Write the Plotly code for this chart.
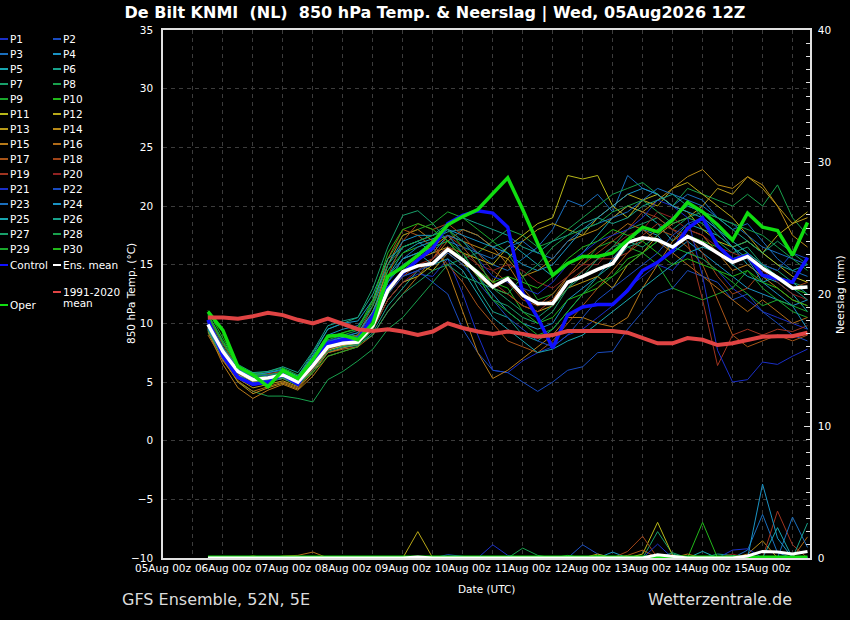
# GFS ensemble plume, De Bilt - 850 hPa temperature and precipitation

import pandas as pd

import plotly.graph_objects as go


# 6-hourly steps from 05Aug 18z to 15Aug 18z
times = pd.date_range("2026-08-05 18:00", periods=41, freq="6h")

ens_mean_t = [9.9, 7.6, 5.9, 5.2, 5.35, 5.6, 5.0, 6.4, 8.0, 8.3,
              8.4, 9.8, 12.8, 14.4, 14.9, 15.1, 16.3, 15.4, 14.3, 13.1,
              13.8, 12.4, 11.7, 11.7, 13.5, 14.0, 14.6, 15.1, 16.9, 17.3,
              17.1, 16.5, 17.4, 16.8, 16.0, 15.2, 15.7, 14.7, 13.9, 13.0,
              13.1]
control_t = [10.3, 7.2, 5.4, 4.8, 5.0, 5.6, 4.8, 6.8, 8.3, 8.6,
             8.6, 10.6, 13.0, 14.3, 15.4, 16.4, 18.5, 19.2, 19.6, 19.4,
             18.2, 12.6, 10.5, 7.9, 10.7, 11.4, 11.6, 11.6, 12.8, 14.5,
             15.2, 16.2, 18.1, 19.0, 16.6, 15.4, 15.8, 14.1, 13.8, 13.5,
             15.6]
oper_t = [11.0, 9.4, 6.3, 5.6, 4.6, 6.0, 5.3, 6.9, 8.9, 9.0,
          8.6, 10.0, 14.0, 14.8, 15.8, 16.9, 18.4, 19.1, 19.7, 21.1,
          22.4, 19.7, 16.8, 14.1, 15.1, 15.7, 15.7, 16.0, 17.1, 18.2,
          17.8, 18.8, 20.3, 19.5, 18.4, 17.1, 19.4, 18.2, 17.9, 15.8,
          18.6]
clim_t = [10.5, 10.5, 10.4, 10.6, 10.9, 10.7, 10.3, 10.0, 10.4, 9.95,
          9.5, 9.35, 9.5, 9.3, 9.0, 9.3, 10.0, 9.6, 9.3, 9.1,
          9.3, 9.1, 8.85, 9.0, 9.35, 9.35, 9.35, 9.35, 9.2, 8.75,
          8.3, 8.3, 8.75, 8.6, 8.15, 8.3, 8.6, 8.85, 8.9, 8.9,
          9.2]

t_p1 = [9.6, 7.2, 5.5, 4.9, 5.1, 5.4, 4.8, 6.0, 7.5, 7.9,
        8.2, 9.5, 12.0, 13.5, 14.2, 14.0, 15.5, 12.5, 9.0, 6.0,
        5.8, 6.8, 7.5, 8.0, 9.0, 9.5, 10.5, 11.5, 13.0, 14.0,
        15.0, 14.5, 16.0, 15.5, 14.5, 13.0, 12.0, 11.0, 10.5, 10.0,
        9.5]
t_p2 = [9.8, 7.4, 5.7, 5.0, 5.2, 5.5, 4.9, 6.2, 7.8, 8.1,
        8.3, 9.6, 12.5, 14.0, 14.5, 13.5, 12.5, 9.5, 7.5, 6.0,
        5.8, 5.0, 4.2, 5.0, 6.0, 6.3, 7.5, 7.6, 9.5, 11.0,
        12.5, 13.0, 14.5, 14.0, 13.5, 12.0, 12.5, 11.0, 10.0, 9.0,
        8.5]
t_p3 = [10.0, 7.8, 6.1, 5.4, 5.6, 5.8, 5.2, 6.6, 8.2, 8.6,
        8.8, 10.5, 13.5, 15.0, 15.8, 16.5, 17.0, 16.5, 16.0, 15.0,
        14.5, 15.5, 16.5, 18.0, 20.5, 20.0, 21.0, 19.5, 22.6, 21.5,
        21.0, 20.0, 21.0, 20.5, 19.0, 18.0, 18.5, 17.0, 15.5, 14.5,
        14.0]
t_p4 = [9.7, 7.5, 6.0, 5.5, 5.8, 6.0, 5.4, 7.2, 9.0, 9.5,
        9.8, 11.5, 14.5, 16.5, 17.0, 16.0, 17.5, 16.0, 14.0, 12.5,
        11.0, 10.0, 9.5, 10.0, 12.0, 13.0, 14.0, 15.5, 17.0, 18.0,
        17.5, 16.0, 17.0, 16.0, 15.0, 14.0, 13.0, 12.5, 12.0, 11.5,
        12.0]
t_p5 = [9.5, 7.0, 5.6, 5.1, 5.3, 5.5, 5.1, 6.8, 8.5, 8.8,
        9.0, 11.0, 14.0, 16.0, 16.8, 17.2, 17.8, 18.0, 17.5, 16.5,
        17.0, 16.0, 15.0, 14.0, 15.0, 16.0, 17.5, 19.0, 20.0, 19.5,
        18.5, 17.0, 18.5, 18.0, 17.5, 16.5, 15.0, 14.0, 13.5, 12.5,
        11.0]
t_p6 = [10.2, 7.8, 6.2, 5.6, 5.5, 5.7, 5.3, 6.5, 7.8, 8.0,
        8.1, 9.2, 11.5, 13.0, 14.5, 15.5, 16.5, 15.5, 13.0, 11.0,
        10.5, 9.0, 8.5, 9.5, 11.0, 12.5, 14.0, 15.0, 16.5, 17.0,
        18.0, 19.0, 20.0, 19.5, 19.0, 18.0, 17.0, 16.0, 15.0, 14.5,
        15.0]
t_p7 = [10.8, 8.5, 6.5, 5.8, 5.6, 5.9, 5.5, 7.5, 9.5, 10.0,
        10.5, 13.0, 16.5, 19.2, 19.6, 18.5, 17.0, 15.5, 14.0, 12.0,
        11.5, 10.5, 10.0, 11.0, 13.0, 14.5, 15.5, 16.5, 18.0, 18.5,
        19.0, 18.0, 19.0, 18.5, 17.0, 16.0, 16.5, 15.0, 14.5, 13.5,
        13.0]
t_p8 = [9.2, 7.0, 5.0, 4.2, 3.8, 3.8, 3.6, 3.3, 5.2, 5.9,
        6.8, 7.8, 9.5, 10.5, 12.0, 13.5, 15.0, 15.5, 16.0, 17.0,
        18.0, 17.5, 16.5, 17.0, 18.0, 19.0, 20.0, 21.0, 21.5, 22.0,
        21.0, 20.0, 21.5, 21.0, 20.5, 20.0, 21.0, 20.0, 21.8, 19.0,
        17.5]
t_p9 = [10.4, 8.0, 6.3, 5.7, 5.9, 6.2, 5.6, 7.0, 8.8, 9.2,
        9.5, 11.8, 15.5, 17.5, 18.0, 18.5, 19.5, 19.0, 18.0, 17.0,
        16.0, 14.0, 12.0, 12.5, 14.0, 15.0, 16.5, 17.0, 16.5, 16.0,
        15.0, 13.0, 12.5, 12.0, 12.5, 13.0, 14.5, 13.0, 12.0, 11.0,
        10.5]
t_p10 = [11.1, 8.8, 6.4, 5.5, 5.2, 5.6, 5.2, 6.6, 8.3, 8.7,
         9.0, 11.0, 14.5, 16.0, 16.5, 17.0, 18.0, 16.5, 15.0, 13.5,
         13.0, 11.0, 10.0, 10.5, 12.0, 12.5, 13.0, 14.0, 15.5, 16.0,
         17.0, 16.5, 17.5, 17.0, 16.5, 15.5, 16.0, 15.0, 14.0, 13.0,
         12.5]
t_p11 = [10.0, 7.7, 5.8, 5.0, 5.1, 5.3, 4.7, 6.0, 7.7, 8.1,
         8.3, 9.5, 12.0, 13.5, 14.0, 15.0, 16.5, 16.0, 15.5, 15.0,
         16.5, 17.5, 18.5, 19.0, 22.6, 22.3, 22.6, 20.0, 19.0, 20.5,
         21.0, 20.0, 19.5, 18.0, 17.0, 16.5, 17.0, 16.0, 15.0, 14.0,
         13.5]
t_p12 = [9.9, 7.5, 5.6, 4.8, 5.0, 5.4, 4.9, 6.3, 8.0, 8.4,
         8.7, 10.5, 13.0, 14.5, 15.0, 14.5, 16.0, 15.0, 14.5, 13.5,
         15.5, 17.0, 18.0, 18.5, 18.0, 17.5, 19.0, 20.0, 21.0, 20.5,
         20.0, 21.5, 22.0, 21.0, 20.0, 19.0, 17.5, 16.0, 17.5, 18.5,
         19.5]
t_p13 = [9.6, 7.3, 5.3, 4.5, 4.8, 5.1, 4.6, 6.2, 7.9, 8.2,
         8.4, 9.9, 12.5, 14.5, 15.5, 16.0, 16.5, 15.5, 14.0, 13.0,
         12.5, 11.5, 11.0, 11.5, 13.0, 13.5, 14.0, 13.0, 15.0, 16.0,
         17.5, 18.5, 19.0, 20.0, 21.5, 21.0, 22.5, 21.5, 20.0, 18.5,
         19.0]
t_p14 = [9.4, 6.9, 5.0, 4.0, 4.5, 4.9, 4.4, 5.8, 7.5, 7.9,
         8.2, 10.0, 13.5, 15.5, 16.0, 16.5, 17.5, 17.0, 16.5, 16.0,
         15.5, 14.0, 14.5, 15.5, 17.0, 17.5, 18.0, 19.0, 20.0, 19.5,
         20.5, 21.5, 22.5, 23.1, 21.8, 21.5, 22.5, 21.8, 20.0, 17.5,
         16.5]
t_p15 = [9.3, 6.5, 4.5, 3.6, 4.3, 4.8, 4.3, 5.5, 7.2, 7.6,
         8.0, 10.5, 15.0, 17.5, 18.0, 17.0, 14.5, 11.0, 7.5, 5.3,
         6.0, 7.0, 8.0, 9.0, 10.5, 10.5, 10.0, 9.7, 10.5, 13.0,
         15.0, 17.0, 18.0, 17.5, 16.0, 14.5, 15.0, 14.0, 13.0, 12.0,
         11.5]
t_p16 = [9.0, 6.8, 5.1, 4.2, 4.6, 5.0, 4.5, 6.0, 7.5, 7.8,
         8.0, 9.0, 11.0, 12.5, 14.0, 15.5, 17.0, 18.0, 17.5, 16.5,
         15.0, 13.0, 11.5, 12.0, 14.0, 15.5, 16.5, 17.5, 18.5, 18.0,
         17.0, 16.0, 15.0, 14.0, 13.0, 12.0, 11.0, 12.0, 11.0, 10.0,
         10.5]
t_p17 = [9.8, 7.5, 5.7, 5.1, 5.4, 5.7, 5.1, 6.6, 8.3, 8.6,
         9.0, 11.5, 15.5, 18.0, 17.5, 16.5, 15.0, 13.5, 11.5, 10.0,
         8.5, 8.0, 7.5, 8.5, 10.0, 11.5, 13.0, 14.5, 16.0, 17.0,
         18.0, 17.5, 16.5, 15.0, 12.0, 9.0, 8.0, 8.5, 9.0, 8.5,
         9.0]
t_p18 = [10.5, 8.2, 6.2, 5.6, 5.7, 5.9, 5.3, 6.5, 8.0, 8.5,
         8.9, 11.0, 14.0, 17.0, 18.5, 18.0, 18.5, 17.5, 16.0, 14.5,
         13.5, 12.0, 11.5, 12.5, 14.0, 15.0, 16.0, 17.0, 18.0, 19.5,
         19.0, 18.0, 17.5, 16.0, 14.0, 12.5, 13.0, 14.5, 14.0, 13.0,
         13.5]
t_p19 = [9.7, 7.3, 5.4, 4.7, 5.0, 5.3, 4.9, 6.1, 7.8, 8.2,
         8.5, 10.0, 12.5, 14.0, 15.0, 15.5, 17.5, 16.5, 15.0, 13.5,
         12.5, 11.5, 11.0, 12.0, 13.5, 14.5, 15.5, 15.5, 16.0, 17.5,
         18.5, 18.0, 17.0, 12.0, 6.4, 9.0, 9.5, 9.0, 9.5, 9.3,
         9.8]
t_p20 = [10.1, 7.9, 6.0, 5.3, 5.5, 5.7, 5.0, 6.3, 7.9, 8.2,
         8.4, 9.5, 12.0, 13.5, 14.5, 15.5, 16.5, 16.0, 15.0, 14.5,
         15.0, 14.5, 13.5, 13.0, 14.0, 15.0, 15.0, 16.5, 17.5, 18.0,
         19.5, 19.0, 18.0, 17.5, 16.5, 16.0, 15.5, 14.5, 13.5, 12.5,
         12.0]
t_p21 = [9.9, 7.6, 6.0, 5.4, 5.5, 5.7, 5.1, 6.9, 8.5, 8.9,
         9.2, 10.8, 13.5, 15.5, 16.0, 17.0, 18.0, 17.0, 15.5, 14.0,
         13.5, 13.0, 12.5, 13.5, 15.0, 16.0, 17.0, 17.5, 18.0, 19.0,
         20.5, 20.0, 19.0, 14.0, 7.7, 5.0, 5.2, 6.7, 6.5, 7.2,
         7.8]
t_p22 = [10.3, 8.0, 6.1, 5.5, 5.6, 5.8, 5.2, 6.7, 8.1, 8.4,
         8.5, 9.8, 12.5, 14.0, 14.5, 15.0, 16.0, 15.0, 13.5, 12.0,
         10.5, 9.5, 8.5, 8.0, 9.0, 10.5, 12.0, 13.0, 14.0, 15.0,
         16.0, 17.5, 18.5, 19.0, 18.0, 17.0, 16.0, 15.0, 14.5, 16.0,
         15.5]
t_p23 = [9.5, 7.2, 5.5, 4.9, 5.2, 5.5, 5.0, 6.5, 8.2, 8.6,
         8.9, 10.5, 13.5, 15.5, 16.5, 17.0, 17.5, 17.0, 16.0, 15.5,
         16.5, 17.0, 16.0, 15.5, 17.0, 18.0, 18.5, 19.0, 19.5, 20.5,
         21.5, 21.0, 20.5, 20.0, 19.0, 18.5, 17.5, 16.5, 16.0, 15.5,
         15.0]
t_p24 = [9.8, 7.6, 6.0, 5.6, 5.8, 6.1, 5.5, 7.3, 9.5, 10.0,
         10.2, 12.0, 15.0, 17.0, 17.5, 17.5, 18.0, 17.5, 17.0, 16.5,
         16.0, 15.0, 14.5, 15.0, 16.5, 18.0, 19.0, 20.0, 21.0, 21.5,
         21.0, 20.0, 19.5, 19.0, 18.0, 16.5, 15.5, 13.5, 12.5, 11.5,
         9.5]
t_p25 = [9.6, 7.4, 5.8, 5.2, 5.4, 5.6, 5.2, 6.8, 8.4, 8.8,
         9.2, 11.0, 14.0, 15.5, 16.0, 15.0, 15.5, 14.5, 12.5, 10.5,
         9.5, 8.5, 7.5, 7.8, 8.5, 9.0, 10.0, 11.0, 12.0, 13.0,
         14.0, 15.0, 16.0, 16.5, 16.0, 15.0, 14.0, 13.5, 14.0, 13.5,
         12.5]
t_p26 = [10.0, 7.9, 6.3, 5.8, 5.9, 6.3, 5.8, 7.6, 9.8, 10.2,
         10.5, 12.5, 15.5, 16.5, 17.0, 17.5, 18.5, 19.0, 18.5, 18.0,
         17.5, 16.5, 16.0, 17.0, 17.5, 18.5, 19.0, 18.5, 19.0, 20.0,
         20.5, 21.0, 20.0, 19.5, 18.0, 17.0, 16.0, 15.0, 14.0, 13.0,
         12.0]
t_p27 = [9.4, 7.0, 5.4, 4.8, 5.0, 5.3, 4.7, 6.0, 7.6, 8.0,
         8.2, 9.0, 11.0, 12.5, 13.5, 14.5, 15.0, 14.0, 13.5, 13.0,
         12.0, 11.0, 10.5, 11.5, 13.0, 14.0, 15.5, 16.5, 17.0, 16.5,
         17.5, 19.0, 20.5, 19.0, 17.5, 16.5, 17.0, 16.0, 17.0, 16.0,
         15.0]
t_p28 = [10.6, 8.3, 6.4, 5.7, 5.6, 5.8, 5.3, 6.9, 8.6, 9.0,
         9.4, 11.5, 15.0, 16.5, 17.0, 17.5, 18.0, 17.0, 15.5, 13.0,
         12.5, 14.0, 15.0, 16.5, 17.5, 18.0, 18.5, 19.5, 20.0, 20.5,
         19.5, 18.5, 19.0, 19.5, 19.0, 18.5, 18.0, 17.5, 16.5, 15.5,
         14.5]
t_p29 = [10.2, 7.6, 5.9, 5.3, 5.2, 5.4, 4.8, 5.8, 7.2, 7.6,
         8.0, 9.5, 12.5, 14.5, 15.5, 16.5, 17.0, 16.0, 14.0, 12.0,
         11.0, 10.0, 9.0, 9.5, 11.0, 12.5, 13.5, 14.0, 15.0, 16.0,
         17.0, 16.5, 16.0, 15.5, 14.5, 13.5, 12.5, 11.5, 12.0, 11.5,
         11.0]
t_p30 = [10.7, 8.4, 6.3, 5.6, 5.4, 5.8, 5.3, 7.0, 8.8, 9.2,
         9.6, 12.0, 16.0, 18.0, 18.5, 18.0, 17.0, 15.5, 14.5, 13.5,
         14.0, 13.5, 13.0, 14.0, 15.5, 16.5, 17.0, 18.0, 17.5, 17.0,
         16.0, 15.0, 15.5, 15.0, 14.5, 14.0, 14.5, 13.5, 13.0, 12.0,
         11.5]

# precipitation (mm per 6h), right axis
ens_mean_r = [0, 0, 0, 0, 0, 0, 0, 0, 0, 0,
              0, 0, 0, 0, 0.07, 0, 0, 0, 0, 0,
              0, 0, 0, 0, 0, 0, 0, 0, 0, 0,
              0.25, 0.1, 0, 0, 0, 0, 0.15, 0.5, 0.45, 0.3,
              0.5]
control_r = [0, 0, 0, 0, 0, 0, 0, 0, 0, 0,
             0, 0, 0, 0, 0, 0, 0, 0, 0, 0,
             0, 0, 0, 0, 0, 0, 0, 0, 0, 0,
             0, 0, 0, 0, 0, 0, 0, 0, 0, 0,
             0]
oper_r = [0, 0, 0, 0, 0, 0, 0, 0, 0, 0,
          0, 0, 0, 0, 0, 0, 0, 0, 0, 0,
          0, 0, 0, 0, 0, 0, 0, 0, 0, 0,
          0, 0, 0, 0, 0, 0, 0, 0, 0, 0,
          0]

r_p1 = [0, 0, 0, 0, 0, 0, 0, 0, 0, 0,
        0, 0, 0, 0, 0, 0, 0, 0, 0, 1.0,
        0.2, 0, 0, 0, 0, 0, 0, 0, 0, 0,
        0, 0, 0, 0, 0, 0, 0, 0, 0, 0,
        0]
r_p2 = [0, 0, 0, 0, 0, 0, 0, 0, 0, 0,
        0, 0, 0, 0, 0, 0, 0, 0, 0, 0,
        0, 0, 0, 0, 0, 1.0, 0.3, 0, 0, 0,
        0, 0, 0, 0, 0, 0, 0, 0, 0, 0,
        0]
r_p3 = [0, 0, 0, 0, 0, 0, 0, 0, 0, 0,
        0, 0, 0, 0, 0, 0, 0, 0, 0, 0,
        0, 0, 0, 0, 0, 0, 0, 0, 0, 0,
        0, 0, 0, 0, 0, 0, 0.6, 3.3, 0.4, 0,
        0]
r_p4 = [0, 0, 0, 0, 0, 0, 0, 0, 0, 0,
        0, 0, 0, 0, 0, 0, 0, 0, 0, 0,
        0, 0, 0, 0, 0, 0, 0, 0.45, 0, 0,
        0, 0, 0, 0, 0, 0, 0, 0, 0, 0,
        0]
r_p5 = [0, 0, 0, 0, 0, 0, 0, 0, 0, 0,
        0, 0, 0, 0, 0, 0, 0, 0, 0, 0,
        0, 0, 0, 0, 0, 0, 0, 0, 0, 0,
        0, 0, 0, 0.5, 0, 0, 0, 0, 0, 0,
        0]
r_p6 = [0, 0, 0, 0, 0, 0, 0, 0, 0, 0,
        0, 0, 0, 0, 0, 0, 0, 0, 0, 0,
        0, 0, 0, 0, 0, 0, 0, 0, 0, 0,
        0, 0, 0, 0, 0.3, 0.2, 0, 0, 0, 0,
        0]
r_p7 = [0, 0, 0, 0, 0, 0, 0, 0, 0, 0,
        0, 0, 0, 0, 0, 0, 0, 0, 0, 0,
        0, 0, 0, 0, 0, 0, 0, 0, 0, 0,
        2.0, 0.3, 0, 0, 0, 0, 0, 0, 0, 0,
        0]
r_p8 = [0, 0, 0, 0, 0, 0, 0, 0, 0, 0,
        0, 0, 0, 0, 0, 0, 0, 0, 0, 0,
        0, 0.75, 0.2, 0, 0, 0, 0, 0, 0, 0,
        0, 0, 0, 0, 0, 0, 0, 0, 0, 0,
        0]
r_p9 = [0, 0, 0, 0, 0, 0, 0, 0, 0, 0,
        0, 0, 0, 0, 0, 0, 0, 0, 0, 0,
        0, 0, 0, 0, 0.2, 0, 0, 0, 0, 0,
        0, 0, 0, 0, 0, 0, 0, 0, 0, 0,
        0]
r_p10 = [0, 0, 0, 0, 0, 0, 0, 0, 0, 0,
         0, 0, 0, 0, 0, 0, 0, 0, 0, 0,
         0, 0, 0, 0, 0, 0, 0, 0, 0, 0,
         0, 0, 0, 2.7, 0, 0, 0, 0, 0, 0,
         0]
r_p11 = [0, 0, 0, 0, 0, 0, 0, 0, 0, 0,
         0, 0, 0, 0, 0, 0, 0, 0, 0, 0,
         0, 0, 0, 0, 0, 0, 0, 0, 0, 0.3,
         2.7, 0.2, 0, 0, 0, 0, 0, 0, 0, 0,
         0]
r_p12 = [0, 0, 0, 0, 0, 0, 0, 0, 0, 0,
         0, 0, 0, 0, 2.0, 0, 0, 0, 0, 0,
         0, 0, 0, 0, 0, 0, 0.3, 0, 0, 0,
         0, 0, 0, 0, 0, 0, 0, 0, 0, 0,
         0]
r_p13 = [0, 0, 0, 0.15, 0, 0, 0, 0, 0, 0,
         0, 0, 0, 0, 0, 0, 0, 0, 0, 0,
         0, 0, 0, 0, 0, 0, 0, 0, 0, 0,
         0, 0, 0, 0, 0, 0, 0, 0, 0, 0,
         0]
r_p14 = [0, 0, 0, 0, 0, 0, 0, 0, 0, 0,
         0, 0, 0, 0, 0, 0, 0, 0, 0, 0,
         0, 0, 0, 0, 0, 0, 0, 0, 0, 0,
         0, 0, 0, 0, 0, 0, 0.3, 1.3, 0, 0,
         0]
r_p15 = [0, 0, 0, 0, 0, 0, 0, 0, 0, 0,
         0, 0, 0, 0, 0, 0, 0, 0, 0, 0,
         0, 0, 0, 0, 0, 0, 0, 0, 0, 0,
         0, 0, 0.3, 0, 0, 0, 0, 0, 0, 0,
         0]
r_p16 = [0, 0, 0, 0, 0, 0.15, 0.2, 0.45, 0, 0,
         0, 0, 0, 0, 0, 0, 0, 0, 0, 0,
         0, 0, 0, 0, 0, 0, 0, 0, 0, 0,
         0, 0, 0, 0, 0, 0, 0, 0, 0, 0,
         1.6]
r_p17 = [0, 0, 0, 0, 0, 0, 0, 0, 0, 0,
         0, 0, 0, 0, 0, 0, 0, 0, 0, 0,
         0, 0, 0, 0, 0, 0, 0, 0, 0.2, 0.6,
         0, 0, 0, 0, 0, 0, 0, 0, 0, 0,
         0]
r_p18 = [0, 0, 0, 0, 0, 0, 0, 0, 0, 0,
         0, 0, 0, 0, 0, 0, 0, 0, 0, 0,
         0, 0, 0, 0, 0, 0, 0, 0, 0.5, 1.65,
         0, 0, 0, 0, 0, 0, 0, 0, 0, 0,
         0]
r_p19 = [0, 0, 0, 0, 0, 0, 0, 0, 0, 0,
         0, 0, 0, 0, 0, 0, 0, 0, 0, 0,
         0, 0, 0, 0, 0, 0, 0, 0, 0, 0,
         0, 0, 0, 0, 0, 0, 0, 0, 3.55, 1.0,
         0]
r_p20 = [0, 0, 0, 0, 0, 0, 0, 0, 0, 0,
         0, 0, 0, 0, 0, 0, 0, 0, 0, 0,
         0, 0, 0, 0, 0, 0, 0, 0, 0, 0,
         0, 0, 0, 0, 0, 0.3, 0, 0, 0, 0,
         0]
r_p21 = [0, 0, 0, 0, 0, 0, 0, 0, 0, 0,
         0, 0, 0, 0, 0, 0, 0, 0, 0, 0,
         0, 0, 0, 0, 0, 0, 0, 0, 0, 0,
         1.05, 0, 0, 0, 0, 0.6, 0.7, 0, 0, 0,
         0]
r_p22 = [0, 0, 0, 0, 0, 0, 0, 0, 0, 0,
         0, 0, 0, 0, 0, 0, 0.25, 0.1, 0, 0,
         0, 0, 0, 0, 0, 0, 0, 0, 0, 0,
         0, 0, 0, 0, 0, 0, 0, 0, 0, 0,
         0]
r_p23 = [0, 0, 0, 0, 0, 0, 0, 0, 0, 0,
         0, 0, 0, 0, 0, 0, 0, 0, 0, 0,
         0, 0, 0, 0, 0, 0, 0, 0, 0, 0,
         0, 0, 0, 0, 0, 0, 0, 0, 0, 3.1,
         0.8]
r_p24 = [0, 0, 0, 0, 0, 0, 0, 0, 0, 0,
         0, 0, 0, 0, 0, 0, 0, 0, 0, 0,
         0, 0, 0, 0, 0, 0, 0, 0, 0, 0,
         0, 0, 0, 0, 0, 0, 0, 5.6, 1.5, 0,
         0]
r_p25 = [0, 0, 0, 0, 0, 0, 0, 0, 0, 0,
         0, 0, 0, 0, 0, 0, 0, 0, 0, 0,
         0, 0, 0, 0, 0, 0, 0, 0, 0, 0,
         0, 0, 0, 0, 0, 0, 0, 0, 2.3, 0,
         0]
r_p26 = [0, 0, 0, 0, 0, 0, 0, 0, 0, 0,
         0, 0, 0, 0, 0, 0, 0, 0, 0, 0,
         0, 0, 0, 0, 0, 0, 0, 0, 0, 0,
         0, 0, 0, 0, 0, 0, 0, 0, 0, 0,
         2.65]
r_p27 = [0, 0, 0, 0, 0, 0, 0, 0, 0, 0,
         0, 0, 0, 0, 0, 0, 0, 0, 0, 0,
         0, 0, 0, 0, 0, 0, 0, 0, 0, 0,
         0, 0.4, 0, 0, 0, 0, 0, 0, 0, 0,
         0]
r_p28 = [0, 0, 0, 0, 0, 0, 0, 0, 0, 0,
         0, 0, 0, 0, 0, 0, 0, 0, 0, 0,
         0, 0, 0.1, 0, 0, 0, 0, 0, 0, 0,
         0, 0, 0, 0, 0, 0, 0, 0, 0, 0,
         0]
r_p29 = [0, 0, 0, 0, 0, 0, 0, 0, 0, 0,
         0, 0, 0, 0, 0, 0, 0, 0, 0, 0,
         0, 0, 0, 0, 0, 0, 0, 0, 0, 0,
         0, 0, 0, 0, 0, 0, 0, 0, 0, 0,
         0]
r_p30 = [0, 0, 0, 0, 0, 0, 0, 0, 0, 0,
         0, 0, 0, 0, 0, 0, 0, 0, 0, 0,
         0, 0, 0, 0, 0, 0, 0.2, 0, 0, 0,
         0, 0, 0, 0, 0, 0, 0, 0, 0, 0,
         0]

members_t = [t_p1, t_p2, t_p3, t_p4, t_p5, t_p6, t_p7, t_p8, t_p9, t_p10,
             t_p11, t_p12, t_p13, t_p14, t_p15, t_p16, t_p17, t_p18, t_p19, t_p20,
             t_p21, t_p22, t_p23, t_p24, t_p25, t_p26, t_p27, t_p28, t_p29, t_p30]
members_r = [r_p1, r_p2, r_p3, r_p4, r_p5, r_p6, r_p7, r_p8, r_p9, r_p10,
             r_p11, r_p12, r_p13, r_p14, r_p15, r_p16, r_p17, r_p18, r_p19, r_p20,
             r_p21, r_p22, r_p23, r_p24, r_p25, r_p26, r_p27, r_p28, r_p29, r_p30]

base_colors = ["#1a2fc8", "#1a4cc0", "#1a6fbe", "#1a93c4", "#18a6b0",
               "#18a38c", "#18a06a", "#18a04c", "#1aa82c", "#22b81a",
               "#b8b818", "#b8a818", "#b89a18", "#b88a18", "#b87a18",
               "#b06a18", "#a85418", "#a04418", "#a03420", "#902222"]
member_colors = base_colors + base_colors[:10]

for s in members_t + members_r + [ens_mean_t, control_t, oper_t, clim_t, ens_mean_r]:
    assert len(s) == len(times), len(s)

fig = go.Figure()

# members
for k in range(30):
    fig.add_trace(go.Scatter(x=times, y=members_t[k], mode="lines",
                             line=dict(color=member_colors[k], width=1), yaxis="y"))
    fig.add_trace(go.Scatter(x=times, y=members_r[k], mode="lines",
                             line=dict(color=member_colors[k], width=1), yaxis="y2"))

fig.add_trace(go.Scatter(x=times, y=control_t, mode="lines", line=dict(color="#1010ff", width=3.5)))
fig.add_trace(go.Scatter(x=times, y=ens_mean_t, mode="lines", line=dict(color="#ffffff", width=3.5)))
fig.add_trace(go.Scatter(x=times, y=oper_t, mode="lines", line=dict(color="#10dd10", width=3.5)))
fig.add_trace(go.Scatter(x=times, y=clim_t, mode="lines", line=dict(color="#e04444", width=4)))

fig.add_trace(go.Scatter(x=times, y=control_r, mode="lines", line=dict(color="#1010ff", width=3.5), yaxis="y2"))
fig.add_trace(go.Scatter(x=times, y=oper_r, mode="lines", line=dict(color="#10dd10", width=5), yaxis="y2"))
fig.add_trace(go.Scatter(x=times, y=ens_mean_r, mode="lines", line=dict(color="#ffffff", width=3), yaxis="y2"))

# pixel -> paper helpers (plot area is x 163..810, y 30..558)
def px(x):
    return (x - 163) / 647.0


def py(y):
    return (558 - y) / 528.0


grid = dict(showgrid=True, gridcolor="#3c3c3c", gridwidth=1, griddash="4px,4px")

fig.update_layout(
    width=850, height=620,
    margin=dict(l=163, r=40, t=30, b=62, autoexpand=False),
    paper_bgcolor="#000000", plot_bgcolor="#000000",
    showlegend=False,
    font=dict(family="DejaVu Sans", size=10.5, color="#ffffff"),
    title=dict(text="<b>De Bilt KNMI\u00a0 (NL)\u00a0 850 hPa Temp. & Neerslag | Wed, 05Aug2026 12Z</b>",
               x=435 / 850, xanchor="center", y=1 - 12 / 620, yanchor="middle", yref="container",
               font=dict(family="DejaVu Sans", size=16, color="#ffffff")),
    xaxis=dict(type="date", range=["2026-08-05 00:00", "2026-08-15 19:00"],
               tick0="2026-08-05", dtick=86400000, tickformat="%d%b %Hz", tickangle=0,
               ticks="", showline=True, linecolor="#e0e0e0", linewidth=1.5, mirror=True,
               zeroline=False, tickfont=dict(size=10.5, color="#ffffff"),
               minor=dict(dtick=43200000, showgrid=True, gridcolor="#3c3c3c", griddash="4px,4px"),
               **grid),
    yaxis=dict(range=[-10, 35], dtick=5, ticks="", showline=True, linecolor="#e0e0e0", linewidth=1.5,
               mirror=True, zeroline=False, tickfont=dict(size=10.5, color="#ffffff"),
               ticklabelstandoff=6, **grid),
    yaxis2=dict(overlaying="y", side="right", range=[0, 40], dtick=10,
                ticks="inside", ticklen=6, tickcolor="#e0e0e0", tickwidth=1,
                minor=dict(dtick=1, ticks="inside", ticklen=4, tickcolor="#e0e0e0", showgrid=False),
                showgrid=False, zeroline=False, showline=True, linecolor="#e0e0e0", linewidth=1.5,
                tickfont=dict(size=10.5, color="#ffffff"), ticklabelstandoff=4),
)

annotations = [
    dict(text="Date (UTC)", x=px(486), y=py(589), xanchor="center", yanchor="middle"),
    dict(text="850 hPa Temp. (°C)", x=px(131), y=py(294), textangle=-90, xanchor="center", yanchor="middle"),
    dict(text="Neerslag (mm)", x=px(840), y=py(294), textangle=-90, xanchor="center", yanchor="middle"),
    dict(text="GFS Ensemble, 52N, 5E", x=px(120), y=py(599), xanchor="left", yanchor="middle",
         font=dict(size=16, color="#dcdcdc")),
    dict(text="Wetterzentrale.de", x=px(794), y=py(599), xanchor="right", yanchor="middle",
         font=dict(size=16, color="#dcdcdc")),
]

# hand-built two column legend
shapes = []
legend_items = []
for k in range(30):
    row = k // 2
    col = k % 2
    legend_items.append(("P%d" % (k + 1), member_colors[k], col, 39 + 15 * row))
legend_items.append(("Control", "#1010ff", 0, 265))
legend_items.append(("Ens. mean", "#ffffff", 1, 265))
legend_items.append(("1991-2020", "#e04444", 1, 292))
legend_items.append(("Oper", "#10dd10", 0, 305))

for name, color, col, ypix in legend_items:
    x0 = 0 if col == 0 else 53
    shapes.append(dict(type="line", xref="paper", yref="paper", x0=px(x0), x1=px(x0 + 8),
                       y0=py(ypix), y1=py(ypix), line=dict(color=color, width=2)))
    annotations.append(dict(text=name, x=px(x0 + 8), y=py(ypix), xanchor="left", yanchor="middle"))
annotations.append(dict(text="mean", x=px(61), y=py(303), xanchor="left", yanchor="middle"))

for a in annotations:
    a.setdefault("xref", "paper")
    a.setdefault("yref", "paper")
    a.setdefault("showarrow", False)
    a.setdefault("font", dict(size=10.5, color="#ffffff"))

fig.update_layout(annotations=annotations, shapes=shapes)

# drop the default page margin so the figure fills the window exactly
fig.write_html("out.html", config={"displayModeBar": False},
               post_script="document.body.style.margin='0px';document.body.style.background='#000';")
